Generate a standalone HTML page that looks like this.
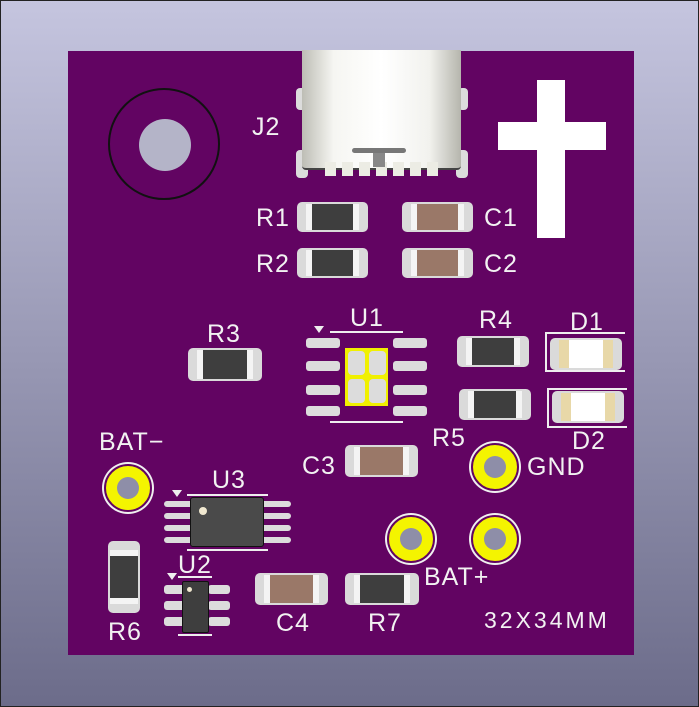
<!DOCTYPE html>
<html><head><meta charset="utf-8"><style>
body{margin:0;width:699px;height:707px;overflow:hidden;background:linear-gradient(#c5c5df,#6c6c8a);position:relative;font-family:"Liberation Sans",sans-serif}
.a{position:absolute}
#frame{position:absolute;left:0;top:0;width:697px;height:705px;border:1px solid #222}
#board{position:absolute;left:68px;top:51px;width:566px;height:604px;background:#620462}
.lbl{position:absolute;color:#f2f2f2;font-size:25px;line-height:24px;letter-spacing:1px}
.cmp{position:absolute;background:#dadada;border-radius:5px}
.body{position:absolute;top:2px;bottom:2px;border-left:6px solid #f4f4f4;border-right:6px solid #f4f4f4}
.r .body{background:#3e3e3e}
.c .body{background:#9a7868}
.pad{position:absolute;background:#dcdcdc;border-radius:3px}
.th{position:absolute;border-radius:50%;background:#f4f400;border:2px solid #620462;box-shadow:0 0 0 2px #f0f0f0}
.th i{position:absolute;left:11px;top:11px;width:22px;height:22px;border-radius:50%;background:#8e8ea8}
</style></head><body>
<div id="frame"></div>
<div id="board"></div>
<!-- mount hole -->
<div class="a" style="left:108px;top:88px;width:112px;height:112px;border:2px solid #111;border-radius:50%;box-sizing:border-box"></div>
<div class="a" style="left:139px;top:119px;width:52px;height:52px;border-radius:50%;background:#b4b4c8"></div>
<!-- USB-C -->
<div class="a" style="left:296px;top:88px;width:10px;height:22px;background:#dcdcdc;border-radius:4px"></div>
<div class="a" style="left:296px;top:150px;width:12px;height:28px;background:#dcdcdc;border-radius:4px"></div>
<div class="a" style="left:458px;top:88px;width:10px;height:22px;background:#dcdcdc;border-radius:4px"></div>
<div class="a" style="left:456px;top:150px;width:12px;height:28px;background:#dcdcdc;border-radius:4px"></div>
<div class="a" style="left:302px;top:50px;width:159px;height:118px;background:linear-gradient(90deg,#bdbdb5,#f6f6f2 20%,#ffffff 50%,#f2f2ee 80%,#b5b5ad);border-radius:0 0 4px 4px;border-bottom:2px solid #444"></div>
<div class="a" style="left:325px;top:162px;width:115px;height:14px;background:repeating-linear-gradient(90deg,#ecece4 0 11px,transparent 11px 17px)"></div>
<div class="a" style="left:352px;top:148px;width:54px;height:5px;background:#777;border-radius:3px"></div>
<div class="a" style="left:373px;top:153px;width:12px;height:14px;background:#888"></div>
<div class="lbl" style="left:252px;top:115px">J2</div>
<!-- cross -->
<div class="a" style="left:537px;top:80px;width:28px;height:158px;background:#fff"></div>
<div class="a" style="left:498px;top:122px;width:108px;height:28px;background:#fff"></div>
<!-- R1 R2 C1 C2 -->
<div class="cmp r" style="left:297px;top:202px;width:71px;height:30px"><div class="body" style="left:9px;right:9px"></div></div>
<div class="cmp r" style="left:297px;top:248px;width:71px;height:30px"><div class="body" style="left:9px;right:9px"></div></div>
<div class="cmp c" style="left:402px;top:202px;width:71px;height:30px"><div class="body" style="left:9px;right:9px"></div></div>
<div class="cmp c" style="left:402px;top:248px;width:71px;height:30px"><div class="body" style="left:9px;right:9px"></div></div>
<div class="lbl" style="left:256px;top:206px">R1</div>
<div class="lbl" style="left:256px;top:252px">R2</div>
<div class="lbl" style="left:484px;top:206px">C1</div>
<div class="lbl" style="left:484px;top:252px">C2</div>
<!-- R3 -->
<div class="cmp r" style="left:188px;top:348px;width:74px;height:33px"><div class="body" style="left:9px;right:9px"></div></div>
<div class="lbl" style="left:207px;top:322px">R3</div>
<!-- U1 -->
<div class="pad" style="left:306px;top:338px;width:34px;height:10px"></div>
<div class="pad" style="left:306px;top:361px;width:34px;height:10px"></div>
<div class="pad" style="left:306px;top:385px;width:34px;height:10px"></div>
<div class="pad" style="left:306px;top:406px;width:34px;height:10px"></div>
<div class="pad" style="left:393px;top:338px;width:34px;height:10px"></div>
<div class="pad" style="left:393px;top:361px;width:34px;height:10px"></div>
<div class="pad" style="left:393px;top:385px;width:34px;height:10px"></div>
<div class="pad" style="left:393px;top:406px;width:34px;height:10px"></div>
<div class="a" style="left:345px;top:348px;width:43px;height:58px;background:#f0f000"></div>
<div class="pad" style="left:348px;top:351px;width:17px;height:24px;border-radius:4px"></div>
<div class="pad" style="left:369px;top:351px;width:17px;height:24px;border-radius:4px"></div>
<div class="pad" style="left:348px;top:379px;width:17px;height:24px;border-radius:4px"></div>
<div class="pad" style="left:369px;top:379px;width:17px;height:24px;border-radius:4px"></div>
<div class="a" style="left:330px;top:331px;width:73px;height:2px;background:#eee"></div>
<div class="a" style="left:330px;top:421px;width:73px;height:2px;background:#eee"></div>
<div class="a" style="left:314px;top:326px;border:5px solid transparent;border-top:7px solid #eee"></div>
<div class="lbl" style="left:350px;top:306px">U1</div>
<!-- R4 R5 -->
<div class="cmp r" style="left:457px;top:336px;width:72px;height:31px"><div class="body" style="left:9px;right:9px"></div></div>
<div class="cmp r" style="left:459px;top:389px;width:72px;height:31px"><div class="body" style="left:9px;right:9px"></div></div>
<div class="lbl" style="left:479px;top:308px">R4</div>
<div class="lbl" style="left:432px;top:426px">R5</div>
<!-- D1 D2 -->
<div class="a" style="left:545px;top:332px;width:80px;height:40px;border:2px solid #eee;border-right:none;box-sizing:border-box"></div>
<div class="cmp" style="left:550px;top:338px;width:72px;height:32px"><div class="a" style="left:9px;right:9px;top:2px;bottom:2px;background:#fff;border-left:10px solid #e8d8a8;border-right:10px solid #e8d8a8"></div></div>
<div class="a" style="left:547px;top:388px;width:80px;height:40px;border:2px solid #eee;border-right:none;box-sizing:border-box"></div>
<div class="cmp" style="left:552px;top:391px;width:72px;height:32px"><div class="a" style="left:9px;right:9px;top:2px;bottom:2px;background:#fff;border-left:10px solid #e8d8a8;border-right:10px solid #e8d8a8"></div></div>
<div class="lbl" style="left:570px;top:310px">D1</div>
<div class="lbl" style="left:572px;top:429px">D2</div>
<!-- C3 -->
<div class="cmp c" style="left:345px;top:445px;width:73px;height:32px"><div class="body" style="left:9px;right:9px"></div></div>
<div class="lbl" style="left:302px;top:454px">C3</div>
<!-- THs -->
<div class="th" style="left:471px;top:443px;width:44px;height:44px"><i></i></div>
<div class="lbl" style="left:527px;top:455px">GND</div>
<div class="th" style="left:104px;top:464px;width:44px;height:44px"><i></i></div>
<div class="lbl" style="left:99px;top:430px">BAT−</div>
<div class="th" style="left:387px;top:515px;width:44px;height:44px"><i></i></div>
<div class="th" style="left:471px;top:515px;width:44px;height:44px"><i></i></div>
<div class="lbl" style="left:424px;top:565px">BAT+</div>
<!-- U3 -->
<div class="pad" style="left:164px;top:501px;width:30px;height:6px"></div>
<div class="pad" style="left:164px;top:513px;width:30px;height:6px"></div>
<div class="pad" style="left:164px;top:525px;width:30px;height:6px"></div>
<div class="pad" style="left:164px;top:537px;width:30px;height:6px"></div>
<div class="pad" style="left:261px;top:501px;width:30px;height:6px"></div>
<div class="pad" style="left:261px;top:513px;width:30px;height:6px"></div>
<div class="pad" style="left:261px;top:525px;width:30px;height:6px"></div>
<div class="pad" style="left:261px;top:537px;width:30px;height:6px"></div>
<div class="a" style="left:187px;top:494px;width:81px;height:2px;background:#eee"></div>
<div class="a" style="left:187px;top:549px;width:81px;height:2px;background:#eee"></div>
<div class="a" style="left:190px;top:497px;width:74px;height:50px;background:#4a4a4a;border:1px solid #111;border-radius:3px;box-sizing:border-box"></div>
<div class="a" style="left:199px;top:507px;width:8px;height:8px;border-radius:50%;background:#f0e8d0"></div>
<div class="a" style="left:172px;top:490px;border:5px solid transparent;border-top:7px solid #eee"></div>
<div class="lbl" style="left:212px;top:468px">U3</div>
<!-- U2 -->
<div class="pad" style="left:164px;top:585px;width:22px;height:9px"></div>
<div class="pad" style="left:164px;top:601px;width:22px;height:9px"></div>
<div class="pad" style="left:164px;top:617px;width:22px;height:9px"></div>
<div class="pad" style="left:208px;top:585px;width:22px;height:9px"></div>
<div class="pad" style="left:208px;top:601px;width:22px;height:9px"></div>
<div class="pad" style="left:208px;top:617px;width:22px;height:9px"></div>
<div class="a" style="left:182px;top:581px;width:27px;height:52px;background:#3e3e3e;border:1px solid #111;border-radius:2px;box-sizing:border-box"></div>
<div class="a" style="left:187px;top:587px;width:5px;height:5px;border-radius:50%;background:#f0e8d0"></div>
<div class="a" style="left:178px;top:576px;width:34px;height:2px;background:#eee"></div>
<div class="a" style="left:178px;top:634px;width:34px;height:2px;background:#eee"></div>
<div class="a" style="left:167px;top:573px;border:5px solid transparent;border-top:7px solid #eee"></div>
<div class="lbl" style="left:178px;top:553px">U2</div>
<!-- R6 -->
<div class="cmp r" style="left:108px;top:541px;width:32px;height:72px"><div class="a" style="left:2px;right:2px;top:9px;bottom:9px;background:#3e3e3e;border-top:6px solid #f4f4f4;border-bottom:6px solid #f4f4f4"></div></div>
<div class="lbl" style="left:108px;top:620px">R6</div>
<!-- C4 R7 -->
<div class="cmp c" style="left:255px;top:573px;width:73px;height:32px"><div class="body" style="left:9px;right:9px"></div></div>
<div class="cmp r" style="left:345px;top:573px;width:74px;height:32px"><div class="body" style="left:9px;right:9px"></div></div>
<div class="lbl" style="left:276px;top:611px">C4</div>
<div class="lbl" style="left:368px;top:611px">R7</div>
<div class="lbl" style="left:484px;top:608px;font-size:23px;letter-spacing:3px">32X34MM</div>
</body></html>
